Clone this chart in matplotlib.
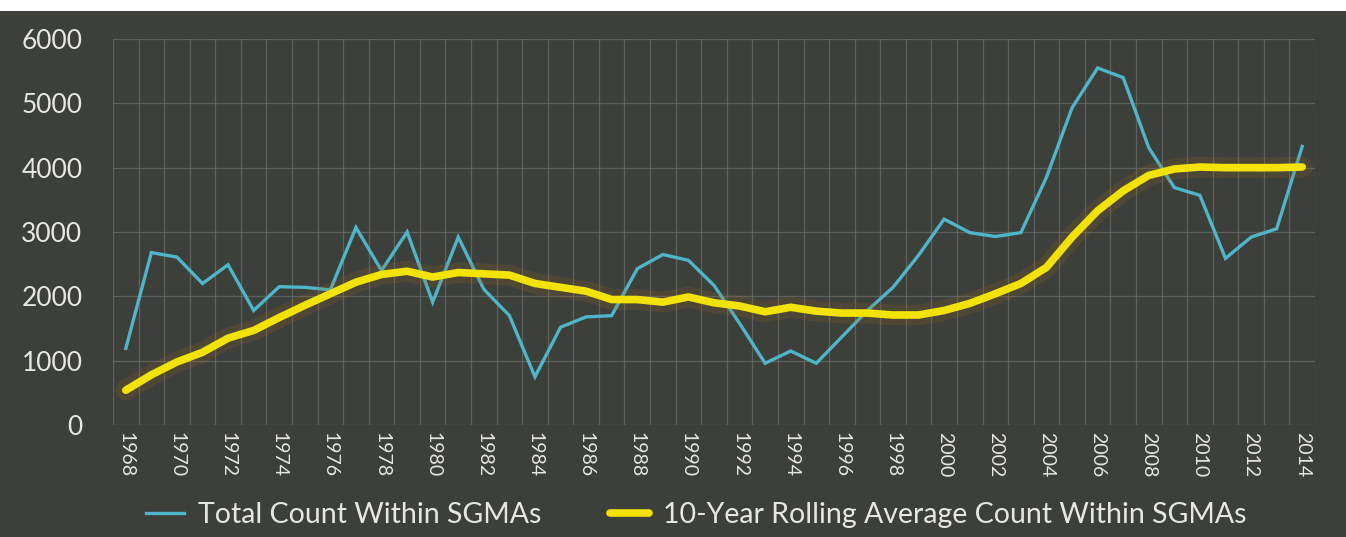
import matplotlib
matplotlib.use("Agg")
import matplotlib.pyplot as plt
import matplotlib.patheffects as pe
from matplotlib.patches import Rectangle
from matplotlib.lines import Line2D

# Years on the category axis
years = list(range(1968, 2015))

# Total count within SGMAs
total_count = [
    1190, 2680, 2610, 2200, 2490, 1780, 2150, 2140, 2100, 3070,
    2400, 3000, 1910, 2920, 2110, 1700, 750, 1520, 1680, 1700,
    2430, 2650, 2560, 2170, 1580, 960, 1150, 960, 1370, 1780,
    2140, 2640, 3200, 2990, 2930, 2990, 3850, 4930, 5550, 5400,
    4310, 3690, 3570, 2590, 2920, 3050, 4330,
]

# 10-year rolling average
rolling_avg = [
    540, 780, 980, 1130, 1350, 1470, 1670, 1860, 2040, 2220,
    2340, 2390, 2300, 2370, 2350, 2330, 2200, 2140, 2080, 1950,
    1950, 1910, 1990, 1900, 1850, 1760, 1830, 1770, 1740, 1740,
    1710, 1710, 1780, 1890, 2040, 2200, 2450, 2920, 3330, 3640,
    3880, 3980, 4010, 4000, 4000, 4000, 4010,
]

y_ticks = [0, 1000, 2000, 3000, 4000, 5000, 6000]

bg = "#3c3f3a"
text_col = "#e6e6e6"
grid_col = "#6e716b"
cyan = "#4db6c8"
yellow = "#f2e400"

plt.rcParams["font.family"] = ["Lato", "DejaVu Sans"]

fig = plt.figure(figsize=(13.46, 5.37), dpi=100)
fig.patch.set_facecolor("white")
# dark slide background (the top strip of the photo stays white)
fig.add_artist(Rectangle((0, 0), 1, 1 - 11 / 537, transform=fig.transFigure,
                         facecolor=bg, edgecolor="none", zorder=0))

ax = fig.add_axes([113 / 1346, 1 - 425 / 537, (1315 - 113) / 1346, (425 - 39) / 537])
ax.set_facecolor(bg)

x = list(range(len(years)))
ax.plot(x, total_count, color=cyan, lw=2.4, solid_joinstyle="miter", zorder=3)
ax.plot(x, rolling_avg, color=yellow, lw=5.5, solid_capstyle="round", zorder=4,
        path_effects=[pe.Stroke(linewidth=15, foreground="#9a6a2a", alpha=0.2),
                      pe.Normal()])

ax.set_xlim(-0.5, len(years) - 0.5)
ax.set_ylim(0, 6000)

# gridlines between categories and at each 1000
ax.set_xticks([i - 0.5 for i in range(len(years) + 1)], minor=True)
ax.grid(True, which="minor", axis="x", color=grid_col, lw=0.9, alpha=0.7)
ax.set_yticks(y_ticks)
ax.grid(True, which="major", axis="y", color=grid_col, lw=0.9, alpha=0.7)
ax.set_axisbelow(True)

ax.set_xticks(x[::2])
ax.set_xticklabels([str(y) for y in years[::2]], rotation=-90)
ax.tick_params(axis="x", which="both", length=0, pad=5, labelsize=14, colors=text_col)
ax.tick_params(axis="y", length=0, pad=22, labelsize=19, colors=text_col)

for s in ax.spines.values():
    s.set_visible(False)

handles = [Line2D([], [], color=cyan, lw=2.4),
           Line2D([], [], color=yellow, lw=5.5, solid_capstyle="round")]
labels = ["Total Count Within SGMAs", "10-Year Rolling Average Count Within SGMAs"]
fig.legend(handles, labels, loc="center", bbox_to_anchor=(696 / 1346, 1 - 515 / 537),
           ncol=2, frameon=False, fontsize=20.5, labelcolor=text_col,
           handlelength=1.35, handletextpad=0.5, columnspacing=2.4)

fig.savefig("out.png", dpi=100, facecolor=fig.get_facecolor())
